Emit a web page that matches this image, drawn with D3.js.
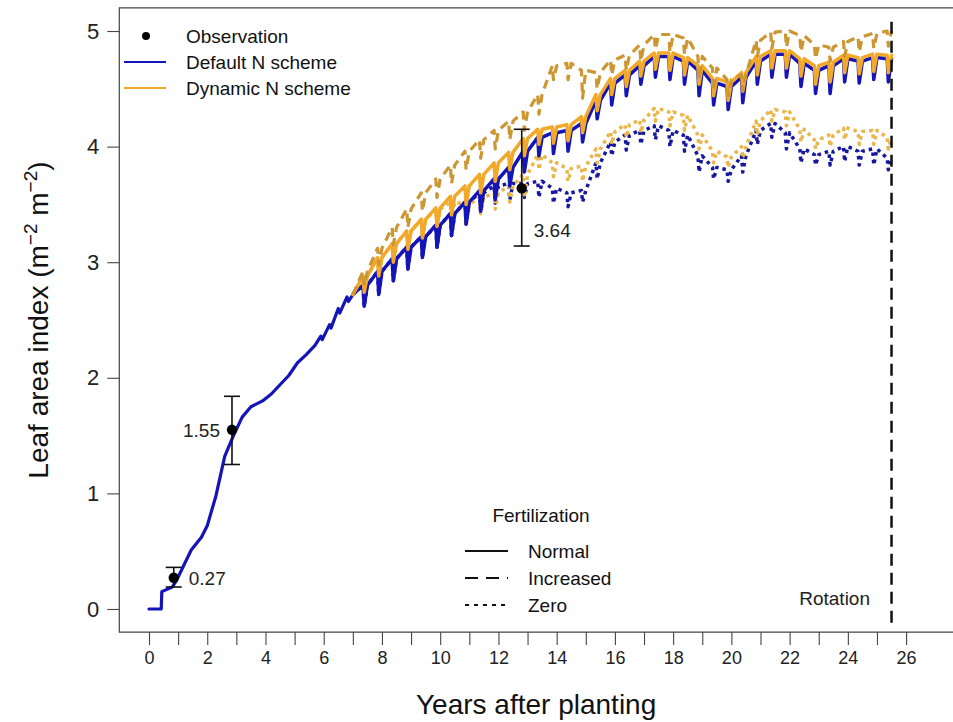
<!DOCTYPE html>
<html>
<head>
<meta charset="utf-8">
<script src="https://cdn.jsdelivr.net/npm/d3@7"></script>
<style>
  html, body { margin: 0; padding: 0; background: #fff; }
  svg { display: block; font-family: "Liberation Sans", Arial, sans-serif; }
</style>
</head>
<body>
<svg id="chart" width="953" height="722"></svg>
<script>
// ---- Establishment phase: single trajectory before fertilization schemes diverge
const earlyYears = [0, 0.42, 0.44, 0.8, 0.95, 1.2, 1.45, 1.8, 2.0, 2.3, 2.6, 2.9, 3.2, 3.5, 3.9, 4.2, 4.5,
  4.8, 5.1, 5.4, 5.7, 5.9, 5.95, 6.2, 6.25, 6.5, 6.55, 6.8, 6.85, 7.0];
const earlyLAI = [0, 0, 0.15, 0.19, 0.25, 0.38, 0.51, 0.62, 0.72, 0.98, 1.32, 1.5, 1.66, 1.75, 1.8, 1.86, 1.94,
  2.02, 2.13, 2.2, 2.28, 2.36, 2.33, 2.46, 2.43, 2.6, 2.56, 2.7, 2.66, 2.72];

// ---- Semi-annual litterfall cycles after year 7: LAI just before each drop and at the trough
const cycleYears = [7.35, 7.85, 8.35, 8.85, 9.35, 9.85, 10.35, 10.85, 11.35, 11.85, 12.35, 12.85, 13.35, 13.85,
  14.35, 14.85, 15.35, 15.85, 16.35, 16.85, 17.35, 17.85, 18.35, 18.85, 19.35, 19.85, 20.35, 20.85, 21.35,
  21.85, 22.35, 22.85, 23.35, 23.85, 24.35, 24.85, 25.35];

// Default N scheme, normal fertilization
const defaultNormalTop = [2.80, 2.92, 3.03, 3.13, 3.22, 3.32, 3.42, 3.52, 3.62, 3.72, 3.82, 3.96, 4.08, 4.12,
  4.14, 4.20, 4.40, 4.55, 4.62, 4.70, 4.78, 4.78, 4.74, 4.66, 4.55, 4.52, 4.60, 4.74, 4.80, 4.80, 4.72, 4.66,
  4.70, 4.76, 4.74, 4.77, 4.76];
const defaultNormalLow = [2.62, 2.72, 2.84, 2.94, 3.04, 3.13, 3.23, 3.33, 3.44, 3.54, 3.66, 3.78, 3.92, 3.94,
  3.96, 4.04, 4.24, 4.36, 4.44, 4.54, 4.60, 4.58, 4.54, 4.44, 4.36, 4.32, 4.38, 4.54, 4.60, 4.60, 4.52, 4.46,
  4.46, 4.56, 4.55, 4.58, 4.56];

// Dynamic N scheme, normal fertilization
const dynamicNormalTop = [2.88, 3.04, 3.16, 3.27, 3.37, 3.47, 3.57, 3.66, 3.76, 3.86, 3.95, 4.07, 4.15, 4.17,
  4.19, 4.26, 4.45, 4.59, 4.66, 4.74, 4.81, 4.81, 4.77, 4.70, 4.59, 4.56, 4.64, 4.78, 4.83, 4.83, 4.76, 4.70,
  4.73, 4.79, 4.77, 4.80, 4.79];
const dynamicNormalLow = [2.74, 2.88, 3.00, 3.11, 3.21, 3.31, 3.41, 3.50, 3.60, 3.70, 3.80, 3.92, 4.02, 4.03,
  4.05, 4.12, 4.31, 4.45, 4.52, 4.61, 4.67, 4.66, 4.62, 4.54, 4.44, 4.40, 4.48, 4.62, 4.68, 4.68, 4.61, 4.54,
  4.56, 4.64, 4.63, 4.65, 4.64];

// Increased fertilization
const increasedTop = [2.92, 3.12, 3.30, 3.46, 3.60, 3.72, 3.84, 3.96, 4.06, 4.14, 4.22, 4.30, 4.45, 4.70,
  4.72, 4.66, 4.64, 4.75, 4.79, 4.88, 4.97, 4.97, 4.94, 4.78, 4.68, 4.58, 4.62, 4.92, 4.99, 5.00, 4.96, 4.88,
  4.86, 4.91, 4.95, 4.98, 5.00];
const increasedLow = [2.80, 2.98, 3.15, 3.30, 3.44, 3.56, 3.68, 3.80, 3.90, 3.98, 4.06, 4.14, 4.28, 4.58,
  4.58, 4.42, 4.50, 4.62, 4.66, 4.74, 4.84, 4.82, 4.80, 4.58, 4.48, 4.44, 4.48, 4.78, 4.85, 4.86, 4.82, 4.76,
  4.74, 4.78, 4.82, 4.85, 4.87];

// Dynamic N scheme, zero fertilization
const dynamicZeroTop = [2.88, 3.04, 3.16, 3.27, 3.37, 3.46, 3.52, 3.50, 3.56, 3.60, 3.66, 3.76, 3.93, 3.86,
  3.81, 3.83, 3.98, 4.13, 4.19, 4.23, 4.33, 4.30, 4.27, 4.10, 3.96, 3.91, 4.00, 4.22, 4.32, 4.30, 4.15, 4.06,
  4.10, 4.16, 4.13, 4.14, 4.08];
const dynamicZeroLow = [2.74, 2.88, 3.00, 3.11, 3.21, 3.31, 3.36, 3.32, 3.42, 3.46, 3.52, 3.56, 3.80, 3.74,
  3.70, 3.70, 3.86, 4.02, 4.08, 4.12, 4.22, 4.18, 4.14, 3.98, 3.86, 3.82, 3.90, 4.10, 4.22, 4.18, 4.04, 3.98,
  4.00, 4.06, 4.02, 4.02, 3.98];

// Default N scheme, zero fertilization
const defaultZeroTop = [2.80, 2.92, 3.03, 3.13, 3.22, 3.32, 3.42, 3.52, 3.60, 3.66, 3.68, 3.68, 3.70, 3.64,
  3.60, 3.62, 3.86, 4.04, 4.10, 4.14, 4.18, 4.14, 4.10, 3.92, 3.82, 3.80, 3.92, 4.14, 4.20, 4.12, 3.98, 3.93,
  3.96, 4.00, 3.96, 3.98, 3.90];
const defaultZeroLow = [2.62, 2.72, 2.84, 2.94, 3.04, 3.13, 3.23, 3.33, 3.44, 3.51, 3.54, 3.56, 3.56, 3.51,
  3.48, 3.52, 3.72, 3.92, 3.97, 4.02, 4.06, 4.00, 3.96, 3.78, 3.72, 3.70, 3.78, 4.02, 4.08, 3.98, 3.86, 3.84,
  3.84, 3.87, 3.84, 3.84, 3.80];

// ---- Field observations (mean with error bars)
const obsYears = [0.85, 2.85, 12.8];
const obsLAI = [0.27, 1.55, 3.64];
const obsLower = [0.19, 1.25, 3.14];
const obsUpper = [0.36, 1.84, 4.15];

const rotationYear = 25.5;
const xTicks = d3.range(0, 27);
const xTickLabels = [0, 2, 4, 6, 8, 10, 12, 14, 16, 18, 20, 22, 24, 26];
const yTicks = [0, 1, 2, 3, 4, 5];

// ---- Styling
const BLUE = "#1414B8";
const BLUE_DOT = "#18189E";
const ORANGE = "#F2A829";
const ORANGE_DASH = "#CC9632";
const ORANGE_DOT = "#EAB54A";

const svg = d3.select("#chart");
const x = d3.scaleLinear().domain([-1.02, 28.15]).range([119.3, 968.7]);
const y = d3.scaleLinear().domain([-0.2, 5.2]).range([632.1, 7.9]);

const plotLeft = x(-1.02), plotRight = 960, plotTop = y(5.2), plotBottom = y(-0.2);

// plot frame (right side runs past the page edge)
svg.append("path")
  .attr("d", `M${plotRight},${plotTop}H${plotLeft}V${plotBottom}H${plotRight}`)
  .attr("fill", "none").attr("stroke", "#444").attr("stroke-width", 1.2);

// x axis: tick every year below the frame, labels on even years
const xAxis = d3.axisBottom(x).tickValues(xTicks).tickSize(13).tickPadding(6)
  .tickFormat(d => xTickLabels.includes(d) ? d : "");
const gx = svg.append("g").attr("transform", `translate(0,${plotBottom})`).call(xAxis);
gx.select(".domain").remove();
gx.selectAll("line").attr("stroke", "#444").attr("stroke-width", 1.1);
gx.selectAll("text").attr("font-size", 18).attr("fill", "#222")
  .attr("font-family", "'Liberation Sans', Arial, sans-serif");

// y axis
const yAxis = d3.axisLeft(y).tickValues(yTicks).tickSize(12).tickPadding(8).tickFormat(d3.format("d"));
const gy = svg.append("g").attr("transform", `translate(${plotLeft},0)`).call(yAxis);
gy.select(".domain").remove();
gy.selectAll("line").attr("stroke", "#444").attr("stroke-width", 1.1);
gy.selectAll("text").attr("font-size", 22).attr("fill", "#222")
  .attr("font-family", "'Liberation Sans', Arial, sans-serif");

// axis titles
svg.append("text").attr("x", (plotLeft + 953) / 2).attr("y", 714).attr("text-anchor", "middle")
  .attr("font-size", 28).attr("fill", "#111").text("Years after planting");

const yTitle = svg.append("text")
  .attr("transform", `translate(48,${(plotTop + plotBottom) / 2}) rotate(-90)`)
  .attr("text-anchor", "middle").attr("font-size", 28).attr("fill", "#111");
yTitle.append("tspan").text("Leaf area index (m");
yTitle.append("tspan").attr("font-size", 19).attr("dy", -11).text("\u22122");
yTitle.append("tspan").attr("dy", 11).text(" m");
yTitle.append("tspan").attr("font-size", 19).attr("dy", -11).text("\u22122");
yTitle.append("tspan").attr("dy", 11).text(")");

// ---- Series
const line = d3.line().x(d => x(d[0])).y(d => y(d[1]));
const earlyPoints = earlyYears.map((t, i) => [t, earlyLAI[i]]);
const lastEarly = earlyPoints[earlyPoints.length - 1];

// each cycle: slow rise to the peak, sharp drop to the trough, quick recovery
function cyclePath(top, low) {
  const pts = [lastEarly];
  cycleYears.forEach((t, i) => {
    pts.push([t, top[i]]);
    pts.push([t + 0.04, low[i]]);
    pts.push([t + 0.15, top[i]]);
  });
  return pts;
}

const g = svg.append("g");
function drawSeries(pts, color, width, dash) {
  g.append("path").attr("d", line(pts)).attr("fill", "none")
    .attr("stroke", color).attr("stroke-width", width)
    .attr("stroke-linejoin", "round")
    .attr("stroke-linecap", dash ? "butt" : "round")
    .attr("stroke-dasharray", dash || null);
}

drawSeries(cyclePath(defaultZeroTop, defaultZeroLow), BLUE_DOT, 3.5, "3.5,4");
drawSeries(cyclePath(dynamicZeroTop, dynamicZeroLow), ORANGE_DOT, 3.5, "3.5,4");
drawSeries(earlyPoints, BLUE, 3.2, null);
drawSeries(cyclePath(defaultNormalTop, defaultNormalLow), BLUE, 3.5, null);
drawSeries(cyclePath(dynamicNormalTop, dynamicNormalLow), ORANGE, 3.5, null);
drawSeries(cyclePath(increasedTop, increasedLow), ORANGE_DASH, 3.2, "9,6");

// rotation marker
svg.append("line")
  .attr("x1", x(rotationYear)).attr("x2", x(rotationYear))
  .attr("y1", y(5.08)).attr("y2", y(-0.17))
  .attr("stroke", "#111").attr("stroke-width", 2.5).attr("stroke-dasharray", "12,7");
svg.append("text").attr("x", 870).attr("y", 605).attr("text-anchor", "end")
  .attr("font-size", 19).attr("fill", "#222").text("Rotation");

// ---- Observations with error bars
const obs = svg.append("g");
obsYears.forEach((t, i) => {
  const cx = x(t);
  obs.append("line").attr("x1", cx).attr("x2", cx).attr("y1", y(obsLower[i])).attr("y2", y(obsUpper[i]))
    .attr("stroke", "#111").attr("stroke-width", 1.6);
  [obsLower[i], obsUpper[i]].forEach(v => {
    obs.append("line").attr("x1", cx - 8).attr("x2", cx + 8).attr("y1", y(v)).attr("y2", y(v))
      .attr("stroke", "#111").attr("stroke-width", 1.6);
  });
  obs.append("circle").attr("cx", cx).attr("cy", y(obsLAI[i])).attr("r", 5.2).attr("fill", "#000");
});
const obsLabelFmt = d3.format(".2f");
obs.append("text").attr("x", x(obsYears[0]) + 15).attr("y", y(obsLAI[0]) + 7)
  .attr("font-size", 19).attr("fill", "#222").text(obsLabelFmt(obsLAI[0]));
obs.append("text").attr("x", x(obsYears[1]) - 12).attr("y", y(obsLAI[1]) + 7).attr("text-anchor", "end")
  .attr("font-size", 19).attr("fill", "#222").text(obsLabelFmt(obsLAI[1]));
obs.append("text").attr("x", x(obsYears[2]) + 12).attr("y", y(obsLAI[2]) + 49)
  .attr("font-size", 19).attr("fill", "#222").text(obsLabelFmt(obsLAI[2]));

// ---- Legend: data sources / schemes
const leg = svg.append("g");
leg.append("circle").attr("cx", 146).attr("cy", 36).attr("r", 4).attr("fill", "#000");
leg.append("line").attr("x1", 124).attr("x2", 166).attr("y1", 62).attr("y2", 62)
  .attr("stroke", BLUE).attr("stroke-width", 2.2);
leg.append("line").attr("x1", 124).attr("x2", 166).attr("y1", 88).attr("y2", 88)
  .attr("stroke", ORANGE).attr("stroke-width", 2.2);
[["Observation", 43], ["Default N scheme", 69], ["Dynamic N scheme", 95]].forEach(([t, yy]) => {
  leg.append("text").attr("x", 186).attr("y", yy).attr("font-size", 19).attr("fill", "#111").text(t);
});

// ---- Legend: fertilization line types
const leg2 = svg.append("g");
leg2.append("text").attr("x", 541).attr("y", 522).attr("text-anchor", "middle")
  .attr("font-size", 19).attr("fill", "#111").text("Fertilization");
[["Normal", 551, null], ["Increased", 578, "13,8"], ["Zero", 605, "4,5"]].forEach(([t, yy, dash]) => {
  leg2.append("line").attr("x1", 465).attr("x2", 508).attr("y1", yy).attr("y2", yy)
    .attr("stroke", "#111").attr("stroke-width", 2.2).attr("stroke-dasharray", dash);
  leg2.append("text").attr("x", 528).attr("y", yy + 7).attr("font-size", 19).attr("fill", "#111").text(t);
});
</script>
</body>
</html>
